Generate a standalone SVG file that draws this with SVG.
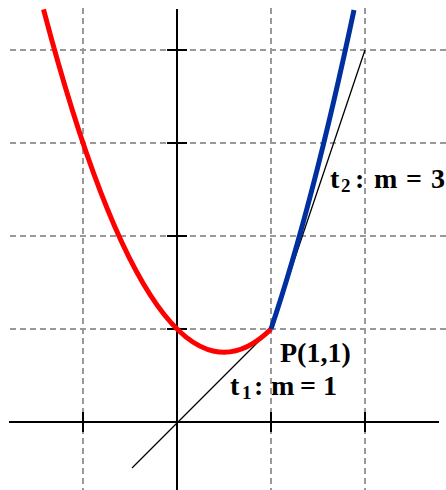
<svg xmlns="http://www.w3.org/2000/svg" width="446" height="490" viewBox="0 0 446 490">
<style>
.grid{stroke:#999;stroke-width:2;stroke-dasharray:6 4;fill:none}
.axis{stroke:#000;stroke-width:2;fill:none}
.tan{stroke:#000;stroke-width:1.3;fill:none}
.lbl{font-family:"Liberation Serif","Times New Roman",serif;font-weight:bold;font-size:28px;fill:#000}
.sub{font-size:19px}
</style>
<rect width="446" height="490" fill="#fff"/>
<g id="grid">
<line class="grid" x1="83" y1="8" x2="83" y2="490"/>
<line class="grid" x1="271" y1="8" x2="271" y2="490"/>
<line class="grid" x1="365" y1="8" x2="365" y2="490"/>
<line class="grid" x1="10" y1="50" x2="446" y2="50"/>
<line class="grid" x1="10" y1="143" x2="446" y2="143"/>
<line class="grid" x1="10" y1="236" x2="446" y2="236"/>
<line class="grid" x1="10" y1="329" x2="446" y2="329"/>
</g>
<g id="axes">
<line class="axis" x1="9" y1="422" x2="439" y2="422"/>
<line class="axis" x1="177" y1="9" x2="177" y2="490"/>
<path class="axis" d="M167 50H187M167 143H187M167 236H187M167 329H187M83 412V432M271 412V432M365 412V432"/>
</g>
<g id="connectors">
<line id="t1" class="tan" x1="132" y1="468" x2="271" y2="329"/>
<line id="t2" class="tan" x1="271" y1="329" x2="365" y2="50"/>
</g>
<g id="curves">
<path id="red" d="M43.5 9.4Q157.3 441.5 271 329" fill="none" stroke="#ff0000" stroke-width="5"/>
<path id="blue" d="M271 329Q312.5 205.8 354 10.1" fill="none" stroke="#0030a0" stroke-width="5"/>
</g>
<g id="labels">
<text class="lbl" x="280" y="362">P(1,1)</text>
<text class="lbl" y="395"><tspan x="230">t</tspan><tspan class="sub" x="242" y="399">1</tspan><tspan x="254" y="395">:</tspan><tspan x="271">m</tspan><tspan x="300">=</tspan><tspan x="323">1</tspan></text>
<text class="lbl" y="188"><tspan x="330">t</tspan><tspan class="sub" x="341" y="192">2</tspan><tspan x="355" y="188">:</tspan><tspan x="374">m</tspan><tspan x="406">=</tspan><tspan x="431">3</tspan></text>
</g>
</svg>
